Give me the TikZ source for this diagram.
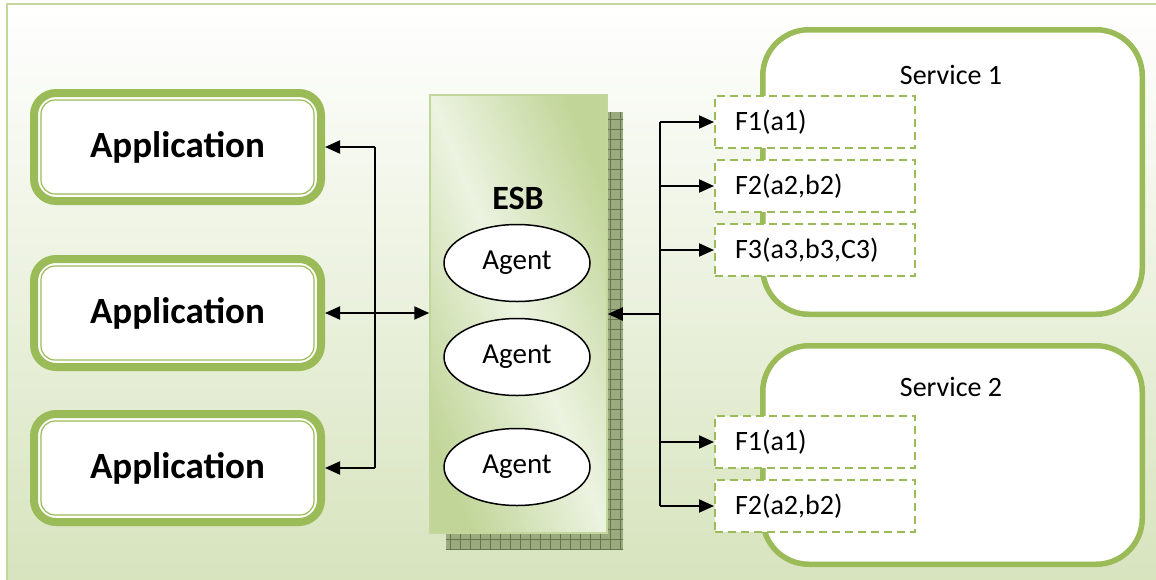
\documentclass[tikz,border=0pt]{standalone}
\usepackage{fontspec}
\setmainfont{Carlito}
\usepackage{xcolor}
\definecolor{svgreen}{RGB}{155,187,89}
\definecolor{svlight}{RGB}{195,214,155}
\definecolor{esbpale}{RGB}{236,243,225}
\definecolor{esbdeep}{RGB}{193,213,152}
\definecolor{bgbottom}{RGB}{214,227,188}
\definecolor{shadowfill}{RGB}{156,170,128}
\definecolor{shadowgrid}{RGB}{100,116,76}
\usetikzlibrary{arrows.meta,positioning,shapes.geometric,calc,patterns.meta}

\begin{document}
\begin{tikzpicture}[x=1pt,y=-1pt,
  app/.style={draw=svgreen,line width=8pt,rounded corners=22pt,fill=white,minimum width=287pt,minimum height=108pt,font=\fontsize{37pt}{41pt}\selectfont\bfseries},
  agent/.style={ellipse,draw,line width=1.5pt,fill=white,minimum width=146pt,minimum height=77pt,inner sep=0pt,font=\fontsize{29pt}{32pt}\selectfont},
  svc/.style={draw=svgreen,line width=5.5pt,rounded corners=46pt,fill=white,minimum width=379.5pt},
  fn/.style={draw=svgreen,line width=2pt,dash pattern=on 8pt off 5pt,fill=white,minimum height=52pt,text width=160pt,inner xsep=20pt,align=left,anchor=west,font=\fontsize{28pt}{32pt}\selectfont},
  lbl/.style={font=\fontsize{28pt}{32pt}\selectfont},
  link/.style={line width=2pt,-{Triangle[length=15pt,width=13pt]}}]
  \clip (0,0) rectangle (1156,579);
  % background frame
  \draw[svlight,line width=2pt,top color=white,bottom color=bgbottom] (7,4) rectangle (1175,595);
  % ESB with its hatched shadow
  \fill[shadowfill] (446,112) rectangle (623,549);
  \path[pattern={Lines[distance=10pt,angle=0,line width=0.7pt]},pattern color=shadowgrid] (446,112) rectangle (623,549);
  \path[pattern={Lines[distance=10pt,angle=90,line width=0.7pt]},pattern color=shadowgrid] (446,112) rectangle (623,549);
  \node[draw=svlight,line width=1.5pt,minimum width=177pt,minimum height=438pt,
    left color=esbdeep,right color=esbdeep,middle color=esbpale,shading angle=112] (esb) at (518.5,314) {};
  \node[font=\fontsize{34pt}{38pt}\selectfont\bfseries] (esblbl) at (518,198) {ESB};
  \node[agent] (ag1) at (517,263) {Agent};
  \node[agent] (ag2) at (517,357) {Agent};
  \node[agent] (ag3) at (517,467) {Agent};
  % applications
  \node[app] (app1) at (177.5,147) {Application};
  \node[app] (app2) at (177.5,313) {Application};
  \node[app] (app3) at (177.5,468) {Application};
  \foreach \a in {app1,app2,app3}
    \draw[svgreen,line width=1.2pt,rounded corners=14pt] ([shift={(11,11)}]\a.north west) rectangle ([shift={(-11,-11)}]\a.south east);
  % left links
  \coordinate (lbus) at (375,313);
  \draw[line width=2pt] (lbus |- app1.east) -- (lbus |- app3.east);
  \draw[link] (lbus |- app1.east) -- (app1.east);
  \draw[link] (lbus |- app3.east) -- (app3.east);
  \draw[link,{Triangle[length=15pt,width=13pt]}-{Triangle[length=15pt,width=13pt]}] (app2.east) -- (app2.east -| esb.west);
  % services
  \node[svc,minimum height=284.5pt] (sv1) at (952.5,172) {};
  \node[svc,minimum height=218.5pt] (sv2) at (952.5,455) {};
  \node[lbl] (sv1lbl) at (951,75) {Service 1};
  \node[lbl] (sv2lbl) at (951,387) {Service 2};
  \node[fn] (f11) at (714,122) {F1(a1)};
  \node[fn] (f12) at (714,186) {F2(a2,b2)};
  \node[fn] (f13) at (714,250) {F3(a3,b3,C3)};
  \node[fn] (f21) at (714,442) {F1(a1)};
  \node[fn] (f22) at (714,506) {F2(a2,b2)};
  % right links
  \coordinate (rbus) at (660,314);
  \draw[line width=2pt] (rbus |- f11.west) -- (rbus |- f22.west);
  \draw[link] (rbus) -- (rbus -| esb.east);
  \foreach \f in {f11,f12,f13,f21,f22}
    \draw[link] (rbus |- \f.west) -- (\f.west);
\end{tikzpicture}
\end{document}
